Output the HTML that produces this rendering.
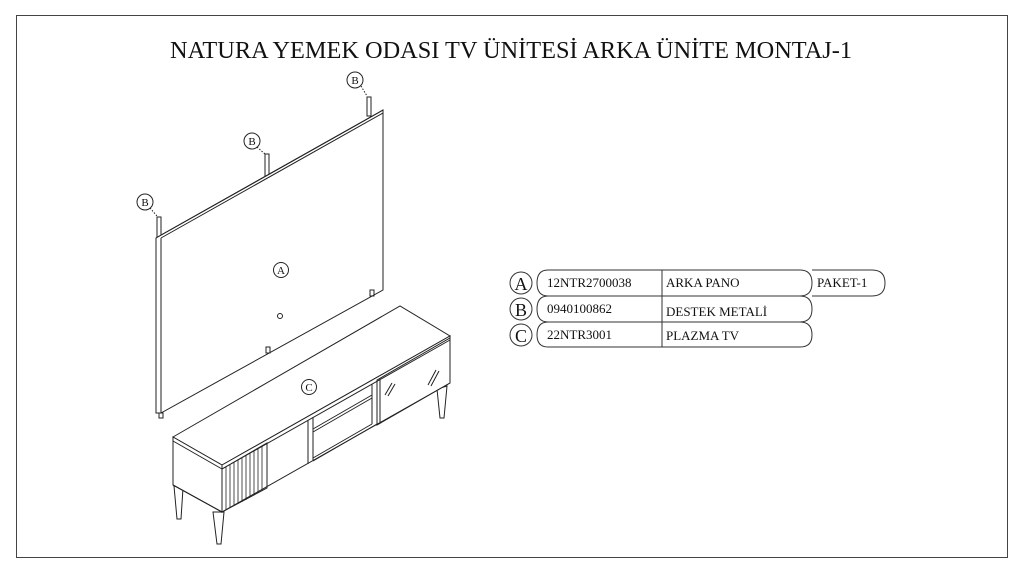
<!DOCTYPE html>
<html><head><meta charset="utf-8"><style>
html,body{margin:0;padding:0;background:#fff;}
svg{display:block;}
text{font-family:"Liberation Serif",serif;fill:#111;}
</style></head><body>
<svg width="1024" height="576" viewBox="0 0 1024 576" xmlns="http://www.w3.org/2000/svg">
<rect x="16.5" y="15.5" width="991" height="542" fill="none" stroke="#444" stroke-width="1"/>
<text x="511" y="58" font-size="24" text-anchor="middle" textLength="682" lengthAdjust="spacingAndGlyphs">NATURA YEMEK ODASI TV ÜNİTESİ ARKA ÜNİTE MONTAJ-1</text>

<g fill="none" stroke="#222" stroke-width="1">
<rect x="157" y="217" width="4" height="24" fill="#fff"/>
<rect x="265" y="154" width="4" height="22" fill="#fff"/>
<rect x="367" y="97" width="4" height="19" fill="#fff"/>
<polygon points="156,238 161,235 383,110 383,290 161,413 156,413" fill="#fff"/>
<polyline points="156,238 378,113 383,110"/>
<line x1="161" y1="238" x2="161" y2="413"/>
<line x1="161" y1="238" x2="383" y2="113"/>
<rect x="159" y="413" width="4" height="5"/>
<rect x="370" y="290" width="4" height="6"/>
<rect x="266" y="347" width="4" height="6"/>
<circle cx="280" cy="316" r="2.5"/>
<line x1="150" y1="208" x2="157" y2="216" stroke-dasharray="1.5,1.5"/>
<line x1="257" y1="147" x2="265" y2="154" stroke-dasharray="1.5,1.5"/>
<line x1="361" y1="86" x2="367" y2="96" stroke-dasharray="1.5,1.5"/>
<circle cx="145" cy="202" r="8" fill="#fff"/>
<circle cx="252" cy="141" r="8" fill="#fff"/>
<circle cx="355" cy="80" r="8" fill="#fff"/>
<circle cx="281" cy="270" r="7.5"/>
<polygon points="174,486 183,488 181,519 177,519" fill="#fff"/>
<polygon points="213,512 224,512 221,544 217,544" fill="#fff"/>
<polygon points="437,389 447,386 444,418 440,418" fill="#fff"/>
<polygon points="173,437 400,306 450,336 222,465" fill="#fff"/>
<polygon points="173,437 222,465 222,512 173,485" fill="#fff"/>
<polygon points="222,465 450,336 450,383 222,512" fill="#fff"/>
<line x1="173" y1="441" x2="222" y2="469"/>
<line x1="222" y1="469" x2="450" y2="340"/>
<polygon points="222,469 267,443 267,488 222,512"/>
<g stroke-width="0.8">
<line x1="226" y1="467" x2="226" y2="510"/><line x1="230" y1="465" x2="230" y2="508"/>
<line x1="234" y1="462" x2="234" y2="506"/><line x1="238" y1="460" x2="238" y2="504"/>
<line x1="242" y1="458" x2="242" y2="502"/><line x1="246" y1="455" x2="246" y2="500"/>
<line x1="250" y1="453" x2="250" y2="497"/><line x1="254" y1="451" x2="254" y2="495"/>
<line x1="258" y1="448" x2="258" y2="493"/><line x1="262" y1="446" x2="262" y2="491"/>
</g>
<line x1="308" y1="420" x2="308" y2="464"/>
<line x1="313" y1="417" x2="313" y2="461"/>
<line x1="313" y1="432" x2="372" y2="398"/>
<line x1="313" y1="429" x2="372" y2="395"/>
<line x1="313" y1="461" x2="377" y2="424"/>
<line x1="313" y1="458" x2="372" y2="424"/>
<line x1="372" y1="384" x2="372" y2="424"/>
<polygon points="377,380 450,338 450,383 377,425"/>
<line x1="380" y1="379" x2="380" y2="423"/>
<line x1="385" y1="395" x2="392" y2="383"/><line x1="388" y1="396" x2="395" y2="384"/>
<line x1="428" y1="385" x2="436" y2="370"/><line x1="431" y1="386" x2="439" y2="371"/>
<line x1="173" y1="485" x2="222" y2="512"/>
<circle cx="309" cy="387" r="7.5" fill="#fff"/>
</g>
<g font-size="11" text-anchor="middle">
<text x="145" y="206">B</text><text x="252" y="145">B</text><text x="355" y="84">B</text>
<text x="281" y="274">A</text><text x="309" y="391">C</text>
</g>

<g fill="none" stroke="#333" stroke-width="1">
<path d="M548,270 H800 Q812,270 812,283 Q812,296 800,296 H548 Q537,296 537,283 Q537,270 548,270 Z"/>
<path d="M812,270 H872 Q885,270 885,283 Q885,296 872,296 H812"/>
<path d="M548,296 H800 Q812,296 812,309 Q812,322 800,322 H548 Q537,322 537,309 Q537,296 548,296 Z"/>
<path d="M548,322 H800 Q812,322 812,335 Q812,347 800,347 H548 Q537,347 537,335 Q537,322 548,322 Z"/>
<line x1="662" y1="270" x2="662" y2="347"/>
<circle cx="521" cy="283" r="11" fill="#fff"/>
<circle cx="521" cy="309" r="11" fill="#fff"/>
<circle cx="521" cy="335" r="11" fill="#fff"/>
</g>
<g font-size="18" text-anchor="middle">
<text x="521" y="290">A</text><text x="521" y="316">B</text><text x="521" y="342">C</text>
</g>
<g font-size="13">
<text x="547" y="287">12NTR2700038</text>
<text x="666" y="287">ARKA PANO</text>
<text x="817" y="287">PAKET-1</text>
<text x="547" y="313">0940100862</text>
<text x="666" y="316">DESTEK METALİ</text>
<text x="547" y="339">22NTR3001</text>
<text x="666" y="340">PLAZMA TV</text>
</g>
</svg>
</body></html>
